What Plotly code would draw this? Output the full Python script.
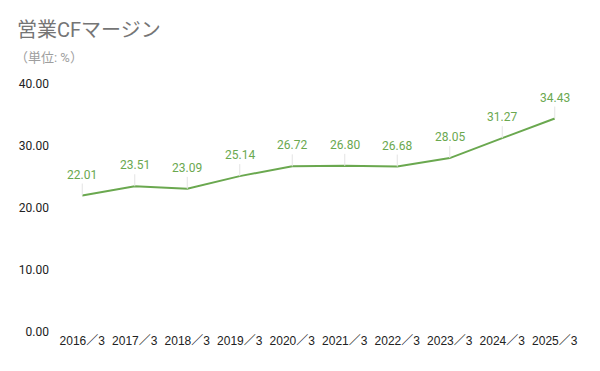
import plotly.graph_objects as go

categories = ["2016／3", "2017／3", "2018／3", "2019／3", "2020／3",
              "2021／3", "2022／3", "2023／3", "2024／3", "2025／3"]
values = [22.01, 23.51, 23.09, 25.14, 26.72, 26.80, 26.68, 28.05, 31.27, 34.43]
y_ticks = [0, 10, 20, 30, 40]

GREEN = "#6aa84f"
FONT = "Roboto, 'Noto Sans CJK JP', sans-serif"
TICKFONT = "'Liberation Sans', Arial, 'Noto Sans CJK JP', sans-serif"

# page body margin of 8px: figure sized so page fits 600x371 window
OFF = 8
W, H = 600 - 2 * OFF, 371 - 2 * OFF
# plot area in screen pixels
SL, SR, ST, SB = 56, 581, 84, 332
L, T = SL - OFF, ST - OFF
R, B = W - (SR - OFF), H - (SB - OFF)
PW, PH = W - L - R, H - T - B


def px_x(sx):
    return (sx - OFF - L) / PW


def px_y(sy):
    return (H - B - (sy - OFF)) / PH


fig = go.Figure()
fig.add_trace(go.Scatter(
    x=categories, y=values, mode="lines",
    line=dict(color=GREEN, width=2),
    hoverinfo="skip", showlegend=False,
))

for c, v in zip(categories, values):
    fig.add_annotation(
        x=c, y=v, xref="x", yref="y",
        text=f"{v:.2f}", showarrow=True, arrowhead=0, arrowwidth=1,
        arrowcolor="#e3e3e3", ax=0, ay=-12, yanchor="bottom",
        font=dict(family=FONT, size=12, color=GREEN),
    )

fig.add_annotation(
    x=px_x(15), y=px_y(30), xref="paper", yref="paper", text="営業CFマージン",
    showarrow=False, xanchor="left", yanchor="middle",
    font=dict(family=FONT, size=20, color="#757575"),
)
fig.add_annotation(
    x=px_x(13), y=px_y(57), xref="paper", yref="paper", text="（単位: %）",
    showarrow=False, xanchor="left", yanchor="middle",
    font=dict(family=FONT, size=13, color="#9e9e9e"),
)

fig.update_layout(
    width=W, height=H,
    margin=dict(l=L, r=R, t=T, b=B),
    paper_bgcolor="white", plot_bgcolor="white",
    xaxis=dict(type="category", range=[-0.5, 9.5], showgrid=False,
               showline=False, zeroline=False, ticks="", automargin=False,
               tickfont=dict(family=TICKFONT, size=12, color="#222222")),
    yaxis=dict(range=[0, 40], tickvals=y_ticks, tickformat=".2f",
               showgrid=False, zeroline=False, showline=False, ticks="",
               ticklabelstandoff=6, automargin=False,
               tickfont=dict(family=FONT, size=12, color="#222222")),
)

fig.write_html("out.html")
